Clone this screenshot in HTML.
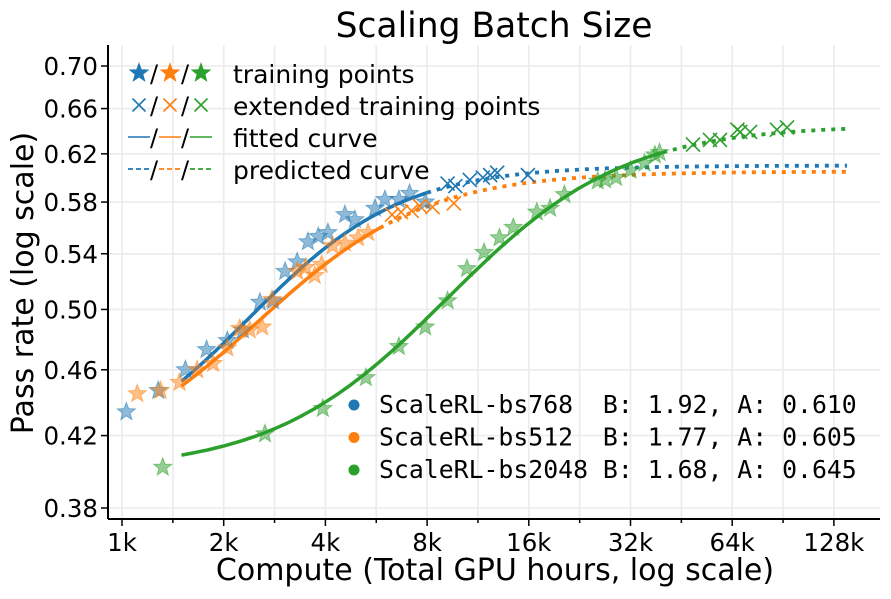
<!DOCTYPE html>
<html><head><meta charset="utf-8">
<style>
body{margin:0;background:#fff;}
svg text{font-family:"DejaVu Sans","Liberation Sans",sans-serif;}
.mono{font-family:"DejaVu Sans Mono","Liberation Mono",monospace;}
</style></head>
<body>
<svg id="chart" width="891" height="594" xmlns="http://www.w3.org/2000/svg">
<rect width="891" height="594" fill="#fff"/>
<g id="grid"></g>
<g id="curves"></g>
<g id="marks"></g>
<g id="axes"></g>
<text x="494" y="37" text-anchor="middle" font-size="34.5">Scaling Batch Size</text>
<text x="495" y="580" text-anchor="middle" font-size="30">Compute (Total GPU hours, log scale)</text>
<text transform="translate(33,283) rotate(-90)" text-anchor="middle" font-size="30">Pass rate (log scale)</text>
<g id="legend1"></g>
<g id="legend2"></g>
</svg>
<script>
const seriesNames=["ScaleRL-bs768","ScaleRL-bs512","ScaleRL-bs2048"];
const colors=["#1f77b4","#ff7f0e","#2ca02c"];
const paramA=[0.610,0.605,0.645];
const paramB=[1.92,1.77,1.68];
const paramCmid=[2.65,2.85,10.6];
const paramR0=[0.40,0.40,0.40];
const fitStart=[1.5,1.5,1.5];
const fitEnd=[8.0,5.8,40];
const predEnd=[140,140,140];
const xTicks=[1,2,4,8,16,32,64,128];
const xTickLabels=["1k","2k","4k","8k","16k","32k","64k","128k"];
const yTicks=[0.38,0.42,0.46,0.50,0.54,0.58,0.62,0.66,0.70];
const yTickLabels=["0.38","0.42","0.46","0.50","0.54","0.58","0.62","0.66","0.70"];
const blueStars=[[1.03,0.434],[1.28,0.447],[1.54,0.460],[1.78,0.473],[2.05,0.479],[2.28,0.486],[2.56,0.505],[2.80,0.506],[3.04,0.527],[3.30,0.534],[3.55,0.549],[3.81,0.553],[4.07,0.556],[4.57,0.570],[4.89,0.566],[5.61,0.575],[6.0,0.582],[6.6,0.582],[7.1,0.587],[7.9,0.580]];
const blueX=[[9.2,0.595],[9.7,0.593],[10.7,0.598],[11.7,0.600],[12.3,0.602],[12.9,0.604],[15.9,0.602]];
const orangeStars=[[1.11,0.445],[1.30,0.447],[1.48,0.452],[1.67,0.460],[1.86,0.464],[2.05,0.474],[2.23,0.487],[2.39,0.486],[2.6,0.488],[2.78,0.507],[3.3,0.527],[3.5,0.530],[3.72,0.524],[3.9,0.532],[4.2,0.546],[4.57,0.548],[5.0,0.552],[5.35,0.556]];
const orangeX=[[6.3,0.570],[6.7,0.572],[7.2,0.573],[7.6,0.577],[8.3,0.576],[9.6,0.579]];
const greenStars=[[1.32,0.402],[2.65,0.421],[3.93,0.436],[5.27,0.455],[6.6,0.475],[7.9,0.488],[9.2,0.506],[10.5,0.529],[11.8,0.541],[13.1,0.552],[14.4,0.560],[16.9,0.572],[18.5,0.575],[20.4,0.586],[25.6,0.597],[26.9,0.598],[29.0,0.600],[32.0,0.606],[35.2,0.612],[37.8,0.619],[39.0,0.621]];
const greenX=[[49.0,0.628],[55.0,0.632],[58.9,0.632],[66.3,0.641],[67.6,0.639],[72.3,0.639],[86.8,0.641],[93.0,0.643]];

const NS="http://www.w3.org/2000/svg";
const X0=122,PXD=101.7,Y0=508,PXL=723.5;
const L=108,R=880,T=45,B=519;
function sx(c){return X0+PXD*Math.log2(c);}
function sy(v){return Y0-PXL*Math.log(v/0.38);}
function el(tag,attrs,parent){const e=document.createElementNS(NS,tag);for(const k in attrs)e.setAttribute(k,attrs[k]);parent.appendChild(e);return e;}
const grid=document.getElementById('grid'),axes=document.getElementById('axes'),curves=document.getElementById('curves'),marks=document.getElementById('marks');

for(let i=0;i<=15;i++){const c=Math.pow(2,i/2);const x=sx(c);if(x>R)break;
 const g=el('line',{x1:x,x2:x,y1:T,y2:B,stroke:'#ebebeb','stroke-width':1.6},grid);
 
 
}
yTicks.forEach(v=>{const y=sy(v);
 const g=el('line',{x1:L,x2:R,y1:y,y2:y,stroke:'#ebebeb','stroke-width':1.6},grid);
 
 
});
el('line',{x1:L,x2:L,y1:T,y2:B,stroke:'#000','stroke-width':2},axes);
el('line',{x1:L,x2:R,y1:B,y2:B,stroke:'#000','stroke-width':2},axes);
for(let i=0;i<=15;i++){const c=Math.pow(2,i/2);const x=sx(c);if(x>R)break;
 el('line',{x1:x,x2:x,y1:B,y2:B+(i%2?4:7),stroke:'#000','stroke-width':1.5},axes);}
xTicks.forEach((c,i)=>{const t=el('text',{x:sx(c),y:B+32,'text-anchor':'middle','font-size':24.5},axes);t.textContent=xTickLabels[i];
 
 
});
yTicks.forEach((v,i)=>{const y=sy(v);el('line',{x1:L-7,x2:L,y1:y,y2:y,stroke:'#000','stroke-width':1.5},axes);
 const t=el('text',{x:L-10,y:y+9,'text-anchor':'end','font-size':24.5},axes);t.textContent=yTickLabels[i];
 
 
});
function model(s,c){return paramR0[s]+(paramA[s]-paramR0[s])/(1+Math.pow(paramCmid[s]/c,paramB[s]));}
function path(s,c0,c1){let d='';const n=80;for(let i=0;i<=n;i++){const c=c0*Math.pow(c1/c0,i/n);d+=(i?'L':'M')+sx(c).toFixed(1)+','+sy(model(s,c)).toFixed(1);}return d;}
for(let s=0;s<3;s++){
 const p=el('path',{d:path(s,fitEnd[s],predEnd[s]),fill:'none',stroke:colors[s],'stroke-width':3.8,'stroke-dasharray':'4 6'},curves);
 
 
 const f=el('path',{d:path(s,fitStart[s],fitEnd[s]),fill:'none',stroke:colors[s],'stroke-width':3.5},curves);
 
 
}
function starPts(cx,cy,r){let p=[];for(let i=0;i<10;i++){const a=-Math.PI/2+i*Math.PI/5;const rr=i%2?r*0.42:r;p.push((cx+rr*Math.cos(a)).toFixed(1)+','+(cy+rr*Math.sin(a)).toFixed(1));}return p.join(' ');}
function star(cx,cy,col,parent,op){return el('polygon',{points:starPts(cx,cy,9.5),fill:col,'fill-opacity':op,stroke:col,'stroke-opacity':op,'stroke-width':1},parent);}
function cross(cx,cy,col,parent,r){const g=el('g',{stroke:col,'stroke-width':1.6},parent);
 el('line',{x1:cx-r,y1:cy-r,x2:cx+r,y2:cy+r},g);el('line',{x1:cx-r,y1:cy+r,x2:cx+r,y2:cy-r},g);return g;}
const starSets=[blueStars,orangeStars,greenStars],xSets=[blueX,orangeX,greenX];
for(let s=0;s<3;s++){
 starSets[s].forEach(p=>{const m=star(sx(p[0]),sy(p[1]),colors[s],marks,0.5);
  
  });
 xSets[s].forEach(p=>{const m=cross(sx(p[0]),sy(p[1]),colors[s],marks,7);
  
  });
}
const lg1=document.getElementById('legend1');
const rowsY=[74,106,138,170],labels=["training points","extended training points","fitted curve","predicted curve"];
rowsY.forEach((y,r)=>{
 for(let s=0;s<3;s++){const cx=139+s*31;
  if(r===0)star(cx,y-1,colors[s],lg1,1);
  else if(r===1)cross(cx,y-1,colors[s],lg1,6.5);
  else if(r===2)el('line',{x1:cx-11,x2:cx+11,y1:y-1,y2:y-1,stroke:colors[s],'stroke-width':1.6},lg1);
  else el('line',{x1:cx-11,x2:cx+11,y1:y-1,y2:y-1,stroke:colors[s],'stroke-width':1.8,'stroke-dasharray':'5 3'},lg1);
  if(s<2){const sl=el('text',{x:cx+15,y:y+8,'text-anchor':'middle','font-size':24},lg1);sl.textContent='/';}
 }
 const t=el('text',{x:233,y:y+9,'font-size':25},lg1);t.textContent=labels[r];
 
 
});
const lg2=document.getElementById('legend2');
for(let s=0;s<3;s++){const y=405+s*32.5;
 el('circle',{cx:354,cy:y,r:5.5,fill:colors[s]},lg2);
 const t=el('text',{x:379,y:y+8,'font-size':24.8,'class':'mono'},lg2);
 t.setAttribute('style','white-space:pre');
 t.textContent=(seriesNames[s]+(seriesNames[s].length<14?"  ":" ")+"B: "+paramB[s].toFixed(2)+", A: "+paramA[s].toFixed(3));
 
 
}
</script>
</body></html>
